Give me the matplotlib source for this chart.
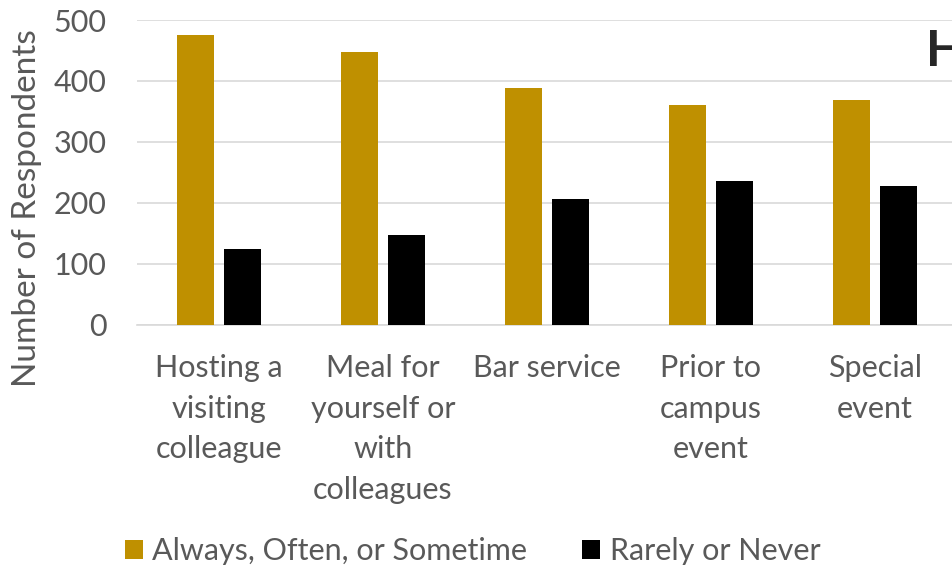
import matplotlib
matplotlib.use('Agg')
import matplotlib.pyplot as plt
import numpy as np

# survey responses per dining occasion
categories = ['Hosting a\nvisiting\ncolleague', 'Meal for\nyourself or\nwith\ncolleagues',
              'Bar service', 'Prior to\ncampus\nevent', 'Special\nevent']
often = [475, 447, 389, 361, 368]
rarely = [124, 148, 207, 235, 227]
series_names = ['Always, Often, or Sometime', 'Rarely or Never']

GOLD = '#BF9000'
TEXT = '#595959'
plt.rcParams['font.family'] = ['Lato', 'DejaVu Sans']

fig = plt.figure(figsize=(9.53, 5.71), dpi=100)
ax = fig.add_axes([137 / 953, 1 - 324.7 / 571, 820 / 953, 304.7 / 571])

x = np.arange(len(categories))
w = 37 / 164
off = 23.5 / 164
b1 = ax.bar(x - off, often, w, color=GOLD, label=series_names[0], zorder=3)
b2 = ax.bar(x + off, rarely, w, color='black', label=series_names[1], zorder=3)

ax.set_xlim(-0.5, len(categories) - 0.5)
ax.set_ylim(0, 500)
ax.set_yticks(range(0, 501, 100))
ax.grid(axis='y', color='#D9D9D9', linewidth=1.2, zorder=0)
ax.set_axisbelow(True)
for s in ['top', 'right', 'left']:
    ax.spines[s].set_visible(False)
ax.spines['bottom'].set_color('#D9D9D9')
ax.spines['bottom'].set_linewidth(1.2)
ax.tick_params(axis='both', length=0, labelsize=22, colors=TEXT)
ax.tick_params(axis='y', pad=22)
ax.set_xticks(x)
ax.set_xticklabels(categories, linespacing=1.55, va='top')
ax.tick_params(axis='x', pad=21)

fig.text(27 / 953, 1 - 208 / 571, 'Number of Respondents', rotation=90,
         ha='center', va='center', fontsize=24, color=TEXT)
fig.text(926 / 953, 1 - 51 / 571, 'H', ha='left', va='center',
         fontsize=36, fontweight='bold', color='#262626')

fig.legend(handles=[b1, b2], loc='center left', bbox_to_anchor=(97 / 953, 1 - 551 / 571),
           ncol=2, frameon=False, fontsize=22, labelcolor=TEXT,
           handlelength=0.6, handleheight=0.6, handletextpad=0.3, columnspacing=1.8)

fig.savefig('out.png', dpi=100)
